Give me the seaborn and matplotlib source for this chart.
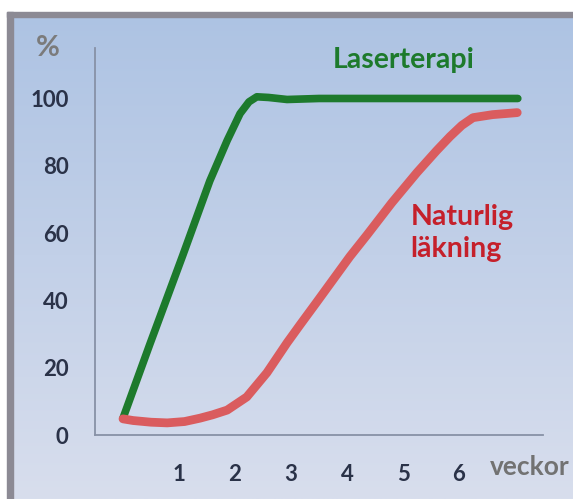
import numpy as np
import pandas as pd
import matplotlib.pyplot as plt
import seaborn as sns
from matplotlib.patches import Rectangle
from matplotlib.colors import LinearSegmentedColormap

# weeks vs healing (%)
laser_weeks = [0, 0.48, 1.07, 1.55, 1.86, 2.09, 2.25, 2.39, 2.6, 2.93, 3.5, 4.05, 5, 6, 7.05]
laser_pct = [5, 27, 53.5, 75.5, 87.5, 95.5, 99, 100.5, 100.3, 99.7, 100, 100, 100, 100, 100]

natural_weeks = [0, 0.18, 0.5, 0.79, 1.1, 1.375, 1.6, 1.86, 2.21, 2.57, 2.93, 3.16, 3.46,
                 4.05, 4.36, 4.8, 5.25, 5.6, 5.84, 6.05, 6.25, 6.6, 7.04]
natural_pct = [4.8, 4.3, 3.8, 3.6, 4, 5, 6, 7.4, 11.3, 18.5, 27.4, 32.7, 39.5,
               53, 59.5, 69, 78, 84.5, 88.7, 92, 94.3, 95.2, 95.8]

y_ticks = [0, 20, 40, 60, 80, 100]
x_labels = ["1", "2", "3", "4", "5", "6"]

df = pd.concat([
    pd.DataFrame({"vecka": laser_weeks, "procent": laser_pct, "serie": "Laserterapi"}),
    pd.DataFrame({"vecka": natural_weeks, "procent": natural_pct, "serie": "Naturlig läkning"}),
])

sns.set_style("white")
plt.rcParams["font.family"] = ["Lato", "DejaVu Sans"]

W, H = 573, 499
fig = plt.figure(figsize=(W / 100, H / 100), dpi=100)
fig.patch.set_facecolor("white")

# gradient panel with grey frame on top/left
bg = fig.add_axes([7 / W, 0, 1 - 7 / W, (H - 12) / H])
grad = np.linspace(0, 1, 256).reshape(-1, 1)
cmap = LinearSegmentedColormap.from_list("bg", ["#adc3e3", "#c2d0e8", "#d8deed"])
bg.imshow(grad, aspect="auto", cmap=cmap, extent=[0, 1, 0, 1], origin="upper")
bg.set_xlim(0, 1)
bg.set_ylim(0, 1)
bg.axis("off")
fig.patches.append(Rectangle((7 / W, (H - 17) / H), 1, 5 / H, transform=fig.transFigure,
                             color="#8c8a94", zorder=5))
fig.patches.append(Rectangle((7 / W, 0), 6 / W, (H - 12) / H, transform=fig.transFigure,
                             color="#8c8a94", zorder=5))

ax = fig.add_axes([95 / W, (H - 435) / H, 448 / W, (435 - 48) / H])
ax.patch.set_alpha(0)
sns.lineplot(data=df, x="vecka", y="procent", hue="serie", estimator=None, sort=False,
             palette={"Laserterapi": "#1d7a2c", "Naturlig läkning": "#da5c5e"},
             linewidth=5.5, legend=False, ax=ax)
ax.lines[1].set_linewidth(6.3)
for ln in ax.lines:
    ln.set_solid_capstyle("round")
    ln.set_solid_joinstyle("round")

ax.set_xlim(-0.5, 7.5)
ax.set_ylim(0, 115)
sns.despine(ax=ax)
for side in ["left", "bottom"]:
    ax.spines[side].set_color("#8791a6")
    ax.spines[side].set_linewidth(1.3)

ax.set_yticks(y_ticks)
ax.set_yticklabels([str(v) for v in y_ticks])
ax.set_xticks(range(1, 7))
ax.set_xticklabels(x_labels)
ax.set_xticks(np.arange(-0.5, 7.6, 1), minor=True)
ax.tick_params(axis="y", length=7, width=1.2, color="#8791a6", pad=12,
               labelsize=16, labelcolor="#2a3248")
ax.tick_params(axis="x", which="major", length=0, pad=21, labelsize=16, labelcolor="#2a3248")
ax.tick_params(axis="x", which="minor", length=5, width=1.2, color="#8791a6")
for lab in ax.get_xticklabels() + ax.get_yticklabels():
    lab.set_fontweight("bold")
ax.set_xlabel("")
ax.set_ylabel("")

fig.text(48 / W, 1 - 48 / H, "%", ha="center", va="center", fontsize=21,
         color="#7b7b7b", fontweight="bold")
fig.text(530 / W, 1 - 467 / H, "veckor", ha="center", va="center", fontsize=19,
         color="#727272", fontweight="bold")
ax.text(5.02, 111.3, "Laserterapi", ha="center", va="center", fontsize=20.5,
        color="#1d7a2c", fontweight="bold")
ax.text(5.13, 60, "Naturlig\nläkning", ha="left", va="center", fontsize=20.5,
        color="#c5202b", fontweight="bold", linespacing=1.3)

fig.savefig("out.png", dpi=100)
